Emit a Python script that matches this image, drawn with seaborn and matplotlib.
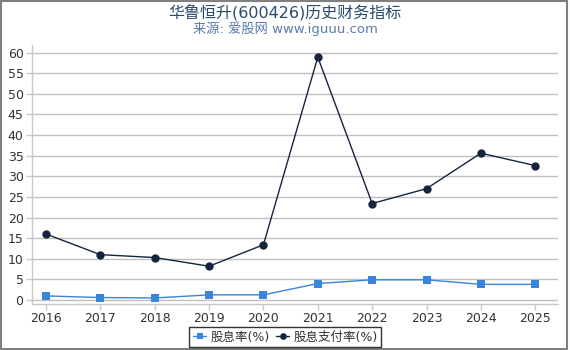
import matplotlib
matplotlib.use("Agg")
import matplotlib.pyplot as plt
import seaborn as sns
import pandas as pd
from matplotlib.patches import Rectangle

years = [2016, 2017, 2018, 2019, 2020, 2021, 2022, 2023, 2024, 2025]
dividend_yield = [1.0, 0.6, 0.5, 1.25, 1.25, 4.0, 4.9, 4.9, 3.8, 3.8]
payout_ratio = [16.0, 11.0, 10.3, 8.2, 13.4, 58.9, 23.4, 27.0, 35.6, 32.6]
series_names = ["股息率(%)", "股息支付率(%)"]
title = "华鲁恒升(600426)历史财务指标"
subtitle = "来源: 爱股网 www.iguuu.com"
yticks = list(range(0, 61, 5))

sns.set_style("white")
plt.rcParams['font.family'] = ['DejaVu Sans', 'Noto Sans CJK SC']

fig = plt.figure(figsize=(5.7, 3.5), dpi=100)
ax = fig.add_axes([0.056, 0.131, 0.923, 0.74])

df = pd.DataFrame({
    "year": years * 2,
    "value": dividend_yield + payout_ratio,
    "series": [series_names[0]] * len(years) + [series_names[1]] * len(years),
})
palette = {series_names[0]: "#3a85d9", series_names[1]: "#15253d"}
sns.lineplot(data=df, x="year", y="value", hue="series", style="series",
             markers={series_names[0]: "s", series_names[1]: "o"},
             dashes=False, palette=palette, markersize=6, linewidth=1.0,
             markeredgewidth=0, ax=ax, legend=True)

ax.set_xlim(2015.74, 2025.42)
ax.set_ylim(-1.0, 61.8)
ax.set_xticks(years)
ax.set_xticklabels([str(y) for y in years])
ax.set_yticks(yticks)
ax.set_xlabel("")
ax.set_ylabel("")
ax.grid(axis="y", color="#c0c0c0", linewidth=1.0)
ax.set_axisbelow(True)
for s in ["top", "right"]:
    ax.spines[s].set_visible(False)
for s in ["left", "bottom"]:
    ax.spines[s].set_color("#c8c8c8")
    ax.spines[s].set_linewidth(1.0)
ax.tick_params(axis="both", which="both", length=4, width=1, color="#c8c8c8",
               labelsize=9, labelcolor="#333333", pad=2, direction="out")
ax.tick_params(left=True, bottom=True)

handles, labels = ax.get_legend_handles_labels()
ax.get_legend().remove()
leg = fig.legend(handles, labels, loc="upper center", bbox_to_anchor=(0.5, 0.066),
                 ncol=2, frameon=True, fancybox=False, fontsize=9, handlelength=1.1,
                 handletextpad=0.3, columnspacing=0.5, borderpad=0.3,
                 borderaxespad=0, markerscale=0.8)
leg.get_frame().set_edgecolor("#000000")
leg.get_frame().set_linewidth(1.0)
for t in leg.get_texts():
    t.set_color("#333333")

fig.text(0.5, 0.965, title, ha="center", va="center", fontsize=11.5, color="#2b4a6f")
fig.text(0.5, 0.918, subtitle, ha="center", va="center", fontsize=9.5, color="#5a7aa8")

fig.patches.append(Rectangle((0.001, 0.003), 0.993, 0.994, transform=fig.transFigure,
                             fill=False, edgecolor="#808080", linewidth=1.5))

fig.savefig("out.png", dpi=100)
